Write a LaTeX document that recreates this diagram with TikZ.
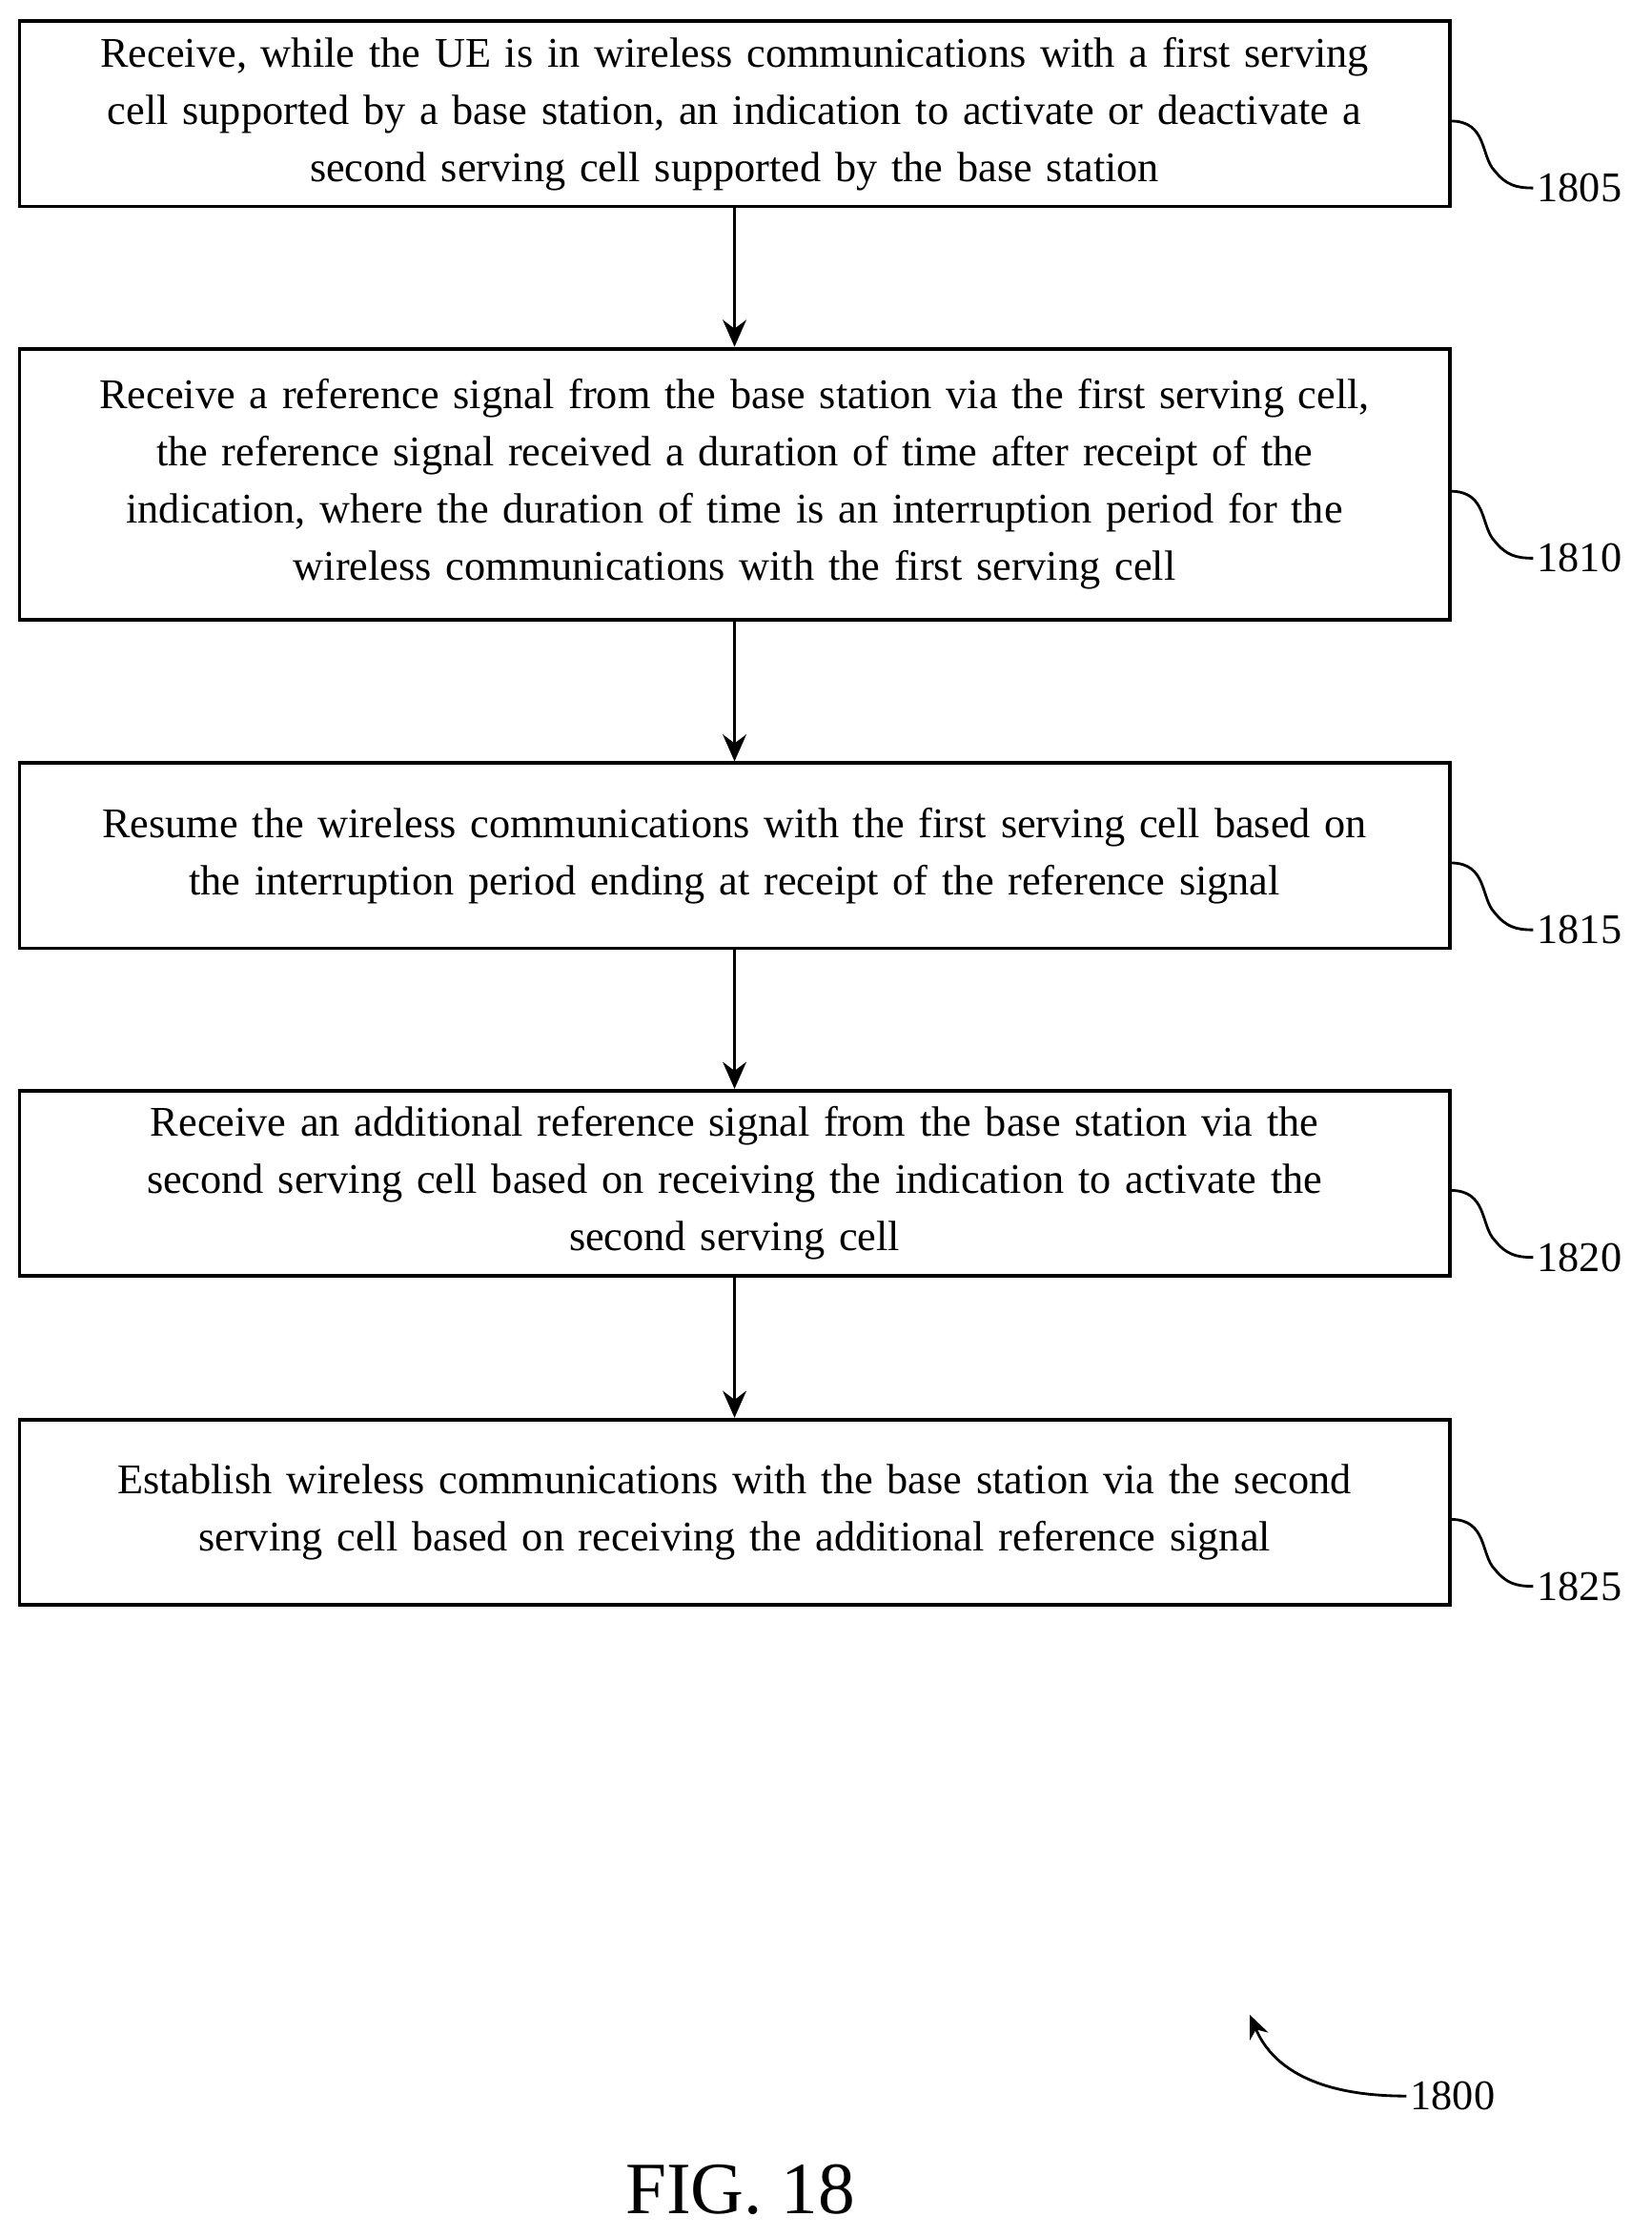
\documentclass[tikz,border=0pt]{standalone}
\usepackage{fontspec}
\setmainfont{Liberation Serif}
\usetikzlibrary{arrows.meta}
\tikzset{
  stepbox/.style={draw, line width=1.1pt, minimum width=14.99cm, text width=14.9cm, align=center, inner sep=0pt, font=\fontsize{12.6}{17}\selectfont},
  flow/.style={-{Stealth[length=8pt,width=7pt]}, line width=1.1pt},
  tag/.style={anchor=west, inner sep=1pt, font=\fontsize{12.6}{16}\selectfont},
  squig/.style={line width=0.8pt}
}
\begin{document}
\begin{tikzpicture}[x=0.01493cm, y=-0.01493cm]
  \useasboundingbox (0,0) rectangle (1160,1571);

  \node[stepbox, minimum height=1.94cm] (s1805) at (516,80) {Receive, while the UE is in wireless communications with a first serving\\ cell supported by a base station, an indication to activate or deactivate a\\ second serving cell supported by the base station};
  \node[stepbox, minimum height=2.84cm] (s1810) at (516,340) {Receive a reference signal from the base station via the first serving cell,\\ the reference signal received a duration of time after receipt of the\\ indication, where the duration of time is an interruption period for the\\ wireless communications with the first serving cell};
  \node[stepbox, minimum height=1.94cm] (s1815) at (516,601) {Resume the wireless communications with the first serving cell based on\\ the interruption period ending at receipt of the reference signal};
  \node[stepbox, minimum height=1.94cm] (s1820) at (516,831) {Receive an additional reference signal from the base station via the\\ second serving cell based on receiving the indication to activate the\\ second serving cell};
  \node[stepbox, minimum height=1.94cm] (s1825) at (516,1062) {Establish wireless communications with the base station via the second\\ serving cell based on receiving the additional reference signal};

  \draw[flow] (s1805) -- (s1810);
  \draw[flow] (s1810) -- (s1815);
  \draw[flow] (s1815) -- (s1820);
  \draw[flow] (s1820) -- (s1825);

  % reference numerals
  \foreach \n/\y in {1805/85, 1810/345, 1815/606, 1820/836, 1825/1067} {
    \node[tag] (t\n) at (1077,\y+47) {\n};
    \coordinate (c\n) at (1019,\y);
    \draw[squig] (c\n) .. controls (1045,\y) and (1040,\y+25) .. (1050,\y+35)
      .. controls (1058,\y+45) and (1065,\y+47) .. (t\n.west);
  }

  \node[tag] (t1800) at (988,1472) {1800};
  \coordinate (a1800) at (878,1415);
  \draw[squig, -{Stealth[length=7pt,width=6pt]}] (t1800.west) .. controls (930,1472) and (895,1455) .. (a1800);

  \node[font=\fontsize{22}{26}\selectfont] (fig) at (520,1538) {FIG. 18};
\end{tikzpicture}
\end{document}
